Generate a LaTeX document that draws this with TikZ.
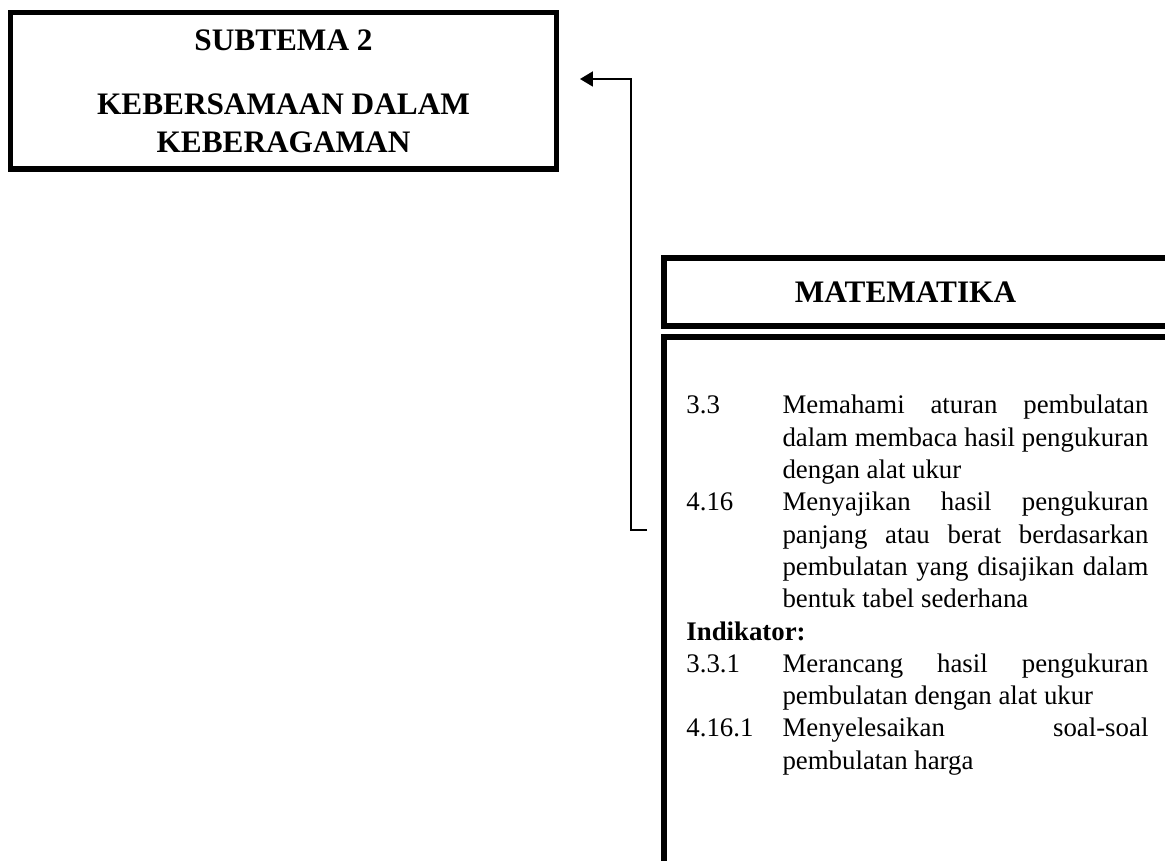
\documentclass[tikz,border=0pt]{standalone}
\usepackage{fontspec}
\setmainfont{Liberation Serif}
\usetikzlibrary{arrows.meta}
\newcommand{\jline}[1]{\makebox[163.7pt][s]{#1}}

\begin{document}
\begin{tikzpicture}[x=0.4474pt,y=-0.4474pt,>={Triangle[length=5.8pt,width=6.7pt]},
    box line/.style={draw,line width=2.25pt},
    title node/.style={box line,align=center,minimum width=244.7pt,minimum height=69.8pt,inner sep=0pt,font=\fontsize{14}{17}\selectfont\bfseries},
    link/.style={->,line width=0.9pt}]
  \useasboundingbox (0,0) rectangle (1165,861);
  \clip (0,0) rectangle (1165,861);
  % subtema
  \node[title node] (sub) at (283.5,91) {SUBTEMA 2\\[11.6pt]KEBERSAMAAN DALAM\\KEBERAGAMAN};
  % matematika
  \draw[box line] (664,258) rectangle (1190,326);
  \node[font=\fontsize{14}{17}\selectfont\bfseries] (mat) at (905.5,292) {MATEMATIKA};
  \draw[box line] (664,337) rectangle (1190,900);
  \node[anchor=base west,inner sep=0pt,font=\fontsize{12}{14.45}\selectfont] (kd) at (686,414) {\begin{tabular}[t]{@{}p{43pt}@{}l@{}}
    3.3 & \jline{Memahami aturan pembulatan}\\
        & \jline{dalam membaca hasil pengukuran}\\
        & dengan alat ukur\\
    4.16 & \jline{Menyajikan hasil pengukuran}\\
        & \jline{panjang atau berat berdasarkan}\\
        & \jline{pembulatan yang disajikan dalam}\\
        & bentuk tabel sederhana\\
    \multicolumn{2}{@{}l@{}}{\textbf{Indikator:}}\\
    3.3.1 & \jline{Merancang hasil pengukuran}\\
        & pembulatan dengan alat ukur\\
    4.16.1 & \jline{Menyelesaikan soal-soal}\\
        & pembulatan harga
  \end{tabular}};
  % panah
  \coordinate (lo) at (647,530);
  \coordinate (tip) at (580,79);
  \draw[link] (lo) -- ++(-16,0) |- (tip);
\end{tikzpicture}
\end{document}
